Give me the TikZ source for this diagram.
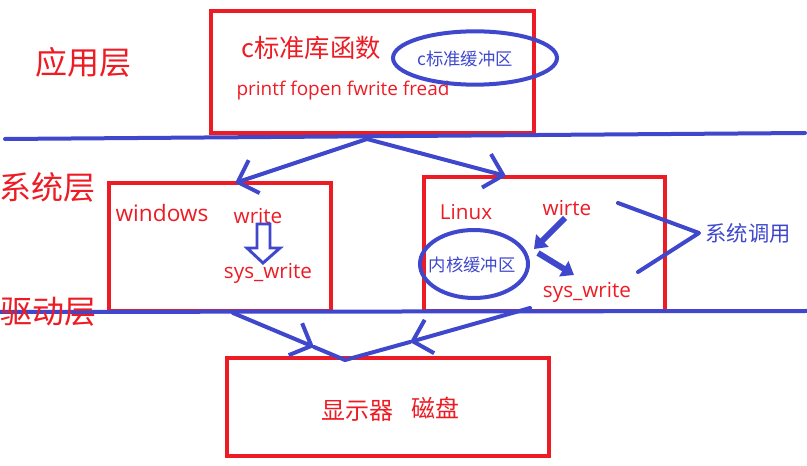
\documentclass[tikz,border=0pt]{standalone}
\usepackage{fontspec}
\setmainfont{Noto Sans CJK SC}
\newfontfamily\latinfont{Open Sans}
\usetikzlibrary{arrows.meta,shapes.geometric}
\definecolor{hred}{RGB}{237,28,36}
\definecolor{hblue}{RGB}{63,72,204}
\tikzset{every picture/.style={line width=0.75pt}}
\tikzset{
redbox/.style={draw=hred, line width=3pt},
blueline/.style={draw=hblue, line width=3pt, line cap=round, line join=round},
thinhead/.style={-{Straight Barb[length=13pt,width=26pt]}},
fathead/.style={draw=hblue, line width=4.5pt, -{Triangle[length=9pt,width=13pt]}},
ring/.style={draw=hblue, line width=3pt, ellipse, inner sep=0pt},
layer/.style={text=hred, inner sep=0.75pt, font=\fontsize{24pt}{28pt}\selectfont},
redtxt/.style={text=hred, inner sep=0.75pt, font=\latinfont\fontsize{15.5pt}{18pt}\selectfont},
bluetxt/.style={text=hblue, inner sep=0.75pt, font=\fontsize{13pt}{15pt}\selectfont}}

\begin{document}
\begin{tikzpicture}[x=0.75pt,y=0.75pt,yscale=-1,xscale=1]
\useasboundingbox (0,0) rectangle (807,466);

%Shape: Rectangle [app]
\draw [redbox] (211,11) rectangle (534,133) ;
%Shape: Rectangle [windows]
\draw [redbox] (109,183) rectangle (331,311) ;
%Shape: Rectangle [linux]
\draw [redbox] (424,177) rectangle (665,311) ;
%Shape: Rectangle [device]
\draw [redbox] (227,358) rectangle (549,456) ;

%Straight Lines [dividers]
\draw [blueline] (5,139) -- (805,133) ;
\draw [blueline] (0,312) -- (807,311) ;

% Text Node
\node [layer] (app) at (84,62) {应用层};
\node [layer] (sys) at (47,187) {系统层};
\node [layer] (drv) at (49,312) {驱动层};

% Text Node
\node [layer, font=\fontsize{19pt}{22pt}\selectfont] (clib) at (311,48) {c标准库函数};
\node [redtxt, font=\latinfont\fontsize{14.2pt}{17pt}\selectfont] (funcs) at (343,91) {printf fopen fwrite fread};
\node [ring, minimum width=123pt, minimum height=40pt] (cbuf) at (475,58) {};
\node [bluetxt] (cbuftxt) at (465,59) {c标准缓冲区};

% Text Node
\node [redtxt, font=\latinfont\fontsize{17pt}{20pt}\selectfont] (win) at (162,213) {windows};
\node [redtxt] (wwrite) at (258,216) {write};
\node [redtxt] (wsys) at (268,273) {sys\_write};

% Text Node
\node [redtxt] (lin) at (466,212) {Linux};
\node [redtxt] (lwirte) at (567,208) {wirte};
\node [redtxt] (lsys) at (587,292) {sys\_write};
\node [ring, minimum width=81pt, minimum height=51pt] (kbuf) at (474,264) {};
\node [bluetxt] (kbuftxt) at (472,265) {内核缓冲区};
\node [bluetxt, font=\fontsize{16pt}{18pt}\selectfont] (call) at (748,233) {系统调用};

% Text Node
\node [layer, font=\fontsize{18pt}{21pt}\selectfont] (disp) at (357,411) {显示器};
\node [layer, font=\fontsize{18pt}{21pt}\selectfont] (disk) at (435,408) {磁盘};

% connector points
\coordinate (split) at (367,139) ;
\coordinate (winTop) at (235,183) ;
\coordinate (linTop) at (506,176) ;
\coordinate (dl) at (233,313) ;
\coordinate (dlm) at (314,347) ;
\coordinate (dr) at (530,308) ;
\coordinate (drm) at (410,342) ;
\coordinate (merge) at (345,360) ;
\coordinate (kin) at (534,249) ;
\coordinate (kout) at (538,253) ;
\coordinate (braceA) at (618,203) ;
\coordinate (braceB) at (699,233) ;
\coordinate (braceC) at (638,272) ;

%Straight Lines [arrows]
\draw [blueline, thinhead] (split) -- (winTop) ;
\draw [blueline, thinhead] (split) -- (linTop) ;
\draw [blueline, thinhead] (dl) -- (dlm) ;
\draw [blueline] (dlm) -- (merge) ;
\draw [blueline, thinhead] (dr) -- (drm) ;
\draw [blueline] (drm) -- (merge) ;
\draw [fathead] (565,218) -- (kin) ;
\draw [fathead] (kout) -- (574,275) ;
\draw [blueline] (braceA) -- (braceB) -- (braceC) ;

%Shape: hollow arrow
\draw [blueline, line width=2.2pt, line cap=butt, line join=miter] (257,224) -- (270,224) -- (270,248) -- (280,248) -- (263,263) -- (247,248) -- (257,248) -- cycle ;

\end{tikzpicture}
\end{document}
